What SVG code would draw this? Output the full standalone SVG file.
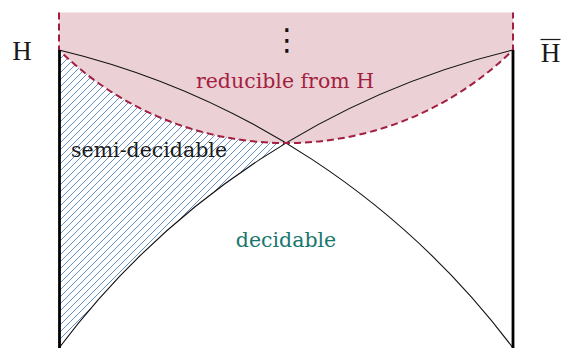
<svg xmlns="http://www.w3.org/2000/svg" width="563" height="348" viewBox="0 0 563 348">
<style>
.lbl{font-family:"DejaVu Serif","Liberation Serif",serif;font-size:20.5px}
.big{font-family:"Liberation Serif","DejaVu Serif",serif;font-size:27px;fill:#1a1a1a}
.curve{fill:none;stroke:#111;stroke-width:1.1}
.edge{fill:none;stroke:#000;stroke-width:2.8}
.dash{fill:none;stroke:#a31f3f;stroke-width:2;stroke-dasharray:7 4}
</style>
<defs>
<pattern id="hatch" patternUnits="userSpaceOnUse" width="7" height="7">
<path d="M-1,1 l2,-2 M0,7 l7,-7 M6,8 l2,-2" stroke="#5585bb" stroke-width="0.9"/>
</pattern>
</defs>
<rect width="563" height="348" fill="#fff"/>
<g id="reducible">
<path d="M59,12.5 H513 V50 A323.5,323.5 0 0 1 59,50 Z" fill="#ebd0d6"/>
</g>
<g id="semidecidable">
<path d="M59,50 A323.5,323.5 0 0 0 286,143 A801.4,801.4 0 0 0 59,348 Z" fill="url(#hatch)"/>
</g>
<g id="connectors">
<path class="curve" d="M59,50 A801.4,801.4 0 0 1 513,348"/>
<path class="curve" d="M513,50 A801.4,801.4 0 0 0 59,348"/>
<path class="dash" d="M59,12.5 V50 A323.5,323.5 0 0 0 513,50 V12.5"/>
<path class="edge" d="M59.5,50 V348"/>
<path class="edge" d="M513,50 V348"/>
</g>
<g id="label-H">
<text class="big" x="22" y="60" text-anchor="middle">H</text>
</g>
<g id="label-Hbar">
<text class="big" x="550.5" y="62" text-anchor="middle">H</text>
<line x1="540.5" y1="39.5" x2="560.5" y2="39.5" stroke="#1a1a1a" stroke-width="1.2"/>
</g>
<g id="label-dots">
<text x="287" y="50" text-anchor="middle" style="font-family:'DejaVu Sans',sans-serif;font-size:30px;fill:#111">⋮</text>
</g>
<g id="label-reducible">
<text class="lbl" x="285" y="88" text-anchor="middle" fill="#a31f3f">reducible from H</text>
</g>
<g id="label-semidecidable">
<text class="lbl" x="71" y="157" fill="#1a1a1a">semi-decidable</text>
</g>
<g id="label-decidable">
<text class="lbl" x="286" y="247" text-anchor="middle" fill="#17776e">decidable</text>
</g>
</svg>
